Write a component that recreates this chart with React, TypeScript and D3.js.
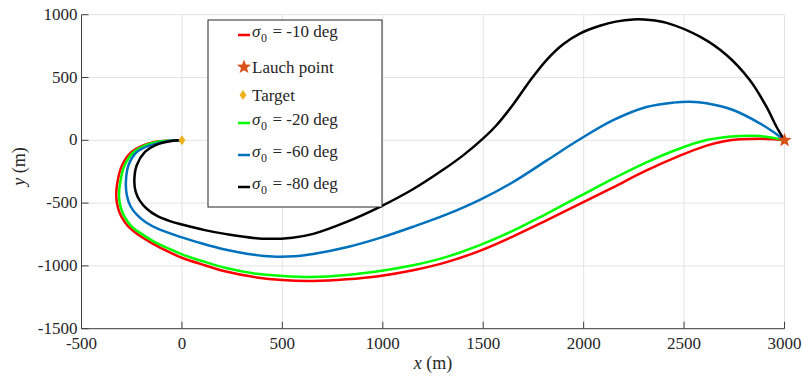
import React from "react";
import * as d3 from "d3";

const xTicks = [-500, 0, 500, 1000, 1500, 2000, 2500, 3000];
const yTicks = [-1500, -1000, -500, 0, 500, 1000];

const red10: [number, number][] = [
  [0, 0], [-60, -3], [-134, -13], [-193, -40], [-251, -93], [-298, -199], [-321, -332],
  [-327, -450], [-318, -540], [-300, -612], [-265, -690], [-217, -752], [-150, -818],
  [-60, -893], [0, -935], [114, -995], [214, -1043], [372, -1092], [500, -1113],
  [650, -1120], [820, -1107], [986, -1080], [1151, -1035], [1318, -970], [1483, -880],
  [1649, -765], [1815, -638], [1981, -507], [2147, -374], [2313, -240], [2479, -122],
  [2612, -42], [2700, -8], [2778, 8], [2877, 13], [2950, 8], [3000, 0],
];
const green20: [number, number][] = [
  [0, 0], [-60, -3], [-125, -13], [-183, -40], [-240, -93], [-285, -199], [-307, -332],
  [-313, -450], [-304, -540], [-286, -607], [-251, -685], [-203, -743], [-137, -808],
  [-50, -873], [0, -908], [114, -968], [214, -1015], [372, -1063], [500, -1080],
  [650, -1088], [820, -1072], [986, -1040], [1151, -995], [1318, -928], [1483, -835],
  [1649, -720], [1815, -585], [1981, -445], [2147, -305], [2313, -175], [2479, -65],
  [2612, 2], [2700, 25], [2778, 34], [2877, 34], [2950, 18], [3000, 0],
];
const blue60: [number, number][] = [
  [0, 0], [-60, -3], [-159, -40], [-225, -93], [-266, -199], [-279, -332], [-274, -440],
  [-256, -525], [-225, -592], [-180, -652], [-110, -712], [-51, -745], [0, -773],
  [100, -822], [214, -870], [330, -905], [450, -926], [560, -924], [654, -905],
  [820, -852], [986, -777], [1151, -688], [1318, -590], [1483, -474], [1649, -332],
  [1815, -162], [1981, 8], [2147, 160], [2313, 265], [2446, 300], [2529, 307],
  [2612, 295], [2744, 241], [2877, 135], [2943, 68], [3000, 0],
];
const black80: [number, number][] = [
  [0, 0], [-35, -2], [-134, -40], [-184, -93], [-225, -199], [-237, -320], [-230, -410],
  [-210, -480], [-175, -545], [-126, -600], [-60, -643], [0, -670], [114, -715],
  [214, -745], [400, -783], [550, -775], [654, -745], [820, -650], [986, -530],
  [1150, -390], [1300, -235], [1400, -120], [1500, 15], [1566, 120], [1649, 285],
  [1732, 472], [1815, 639], [1898, 765], [1981, 850], [2081, 912], [2160, 945],
  [2247, 962], [2330, 958], [2413, 935], [2579, 825], [2711, 679], [2827, 480],
  [2910, 268], [2960, 108], [3000, 0],
];

const series = [
  { name: "-10", data: red10, color: "#ff0000" },
  { name: "-20", data: green20, color: "#00ff00" },
  { name: "-60", data: blue60, color: "#0072bd" },
  { name: "-80", data: black80, color: "#000000" },
];

const launch: [number, number] = [3000, 0];
const target: [number, number] = [0, 0];

const W = 802, H = 376;
const L = 81.5, R = 784.5, T = 14.7, B = 328.7;
const font = '"Liberation Serif", "Times New Roman", Tinos, "DejaVu Serif", serif';
const txt = { fontFamily: font, fill: "#262626" } as const;

function starPath(cx: number, cy: number, r: number) {
  const pts: string[] = [];
  for (let i = 0; i < 10; i++) {
    const a = -Math.PI / 2 + (i * Math.PI) / 5;
    const rr = i % 2 === 0 ? r : r * 0.42;
    pts.push(`${cx + rr * Math.cos(a)},${cy + rr * Math.sin(a)}`);
  }
  return "M" + pts.join("L") + "Z";
}
function diamondPath(cx: number, cy: number, r: number) {
  return `M${cx},${cy - r}L${cx + r * 0.7},${cy}L${cx},${cy + r}L${cx - r * 0.7},${cy}Z`;
}

function Sigma({ x, y, val }: { x: number; y: number; val: string }) {
  return (
    <g>
      <text x={x} y={y} style={{ ...txt, fontSize: 17, fontStyle: "italic" }}>σ</text>
      <text x={x + 9} y={y + 5} style={{ ...txt, fontSize: 12 }}>0</text>
      <text x={x + 20.5} y={y} style={{ ...txt, fontSize: 17 }}>{`= ${val} deg`}</text>
    </g>
  );
}

export default function App() {
  const x = d3.scaleLinear().domain([-500, 3000]).range([L, R]);
  const y = d3.scaleLinear().domain([-1500, 1000]).range([B, T]);
  const line = d3
    .line<[number, number]>()
    .x((d) => x(d[0]))
    .y((d) => y(d[1]))
    .curve(d3.curveCatmullRom.alpha(0.5));

  const axisColor = "#404040";
  const legendRows = [
    { kind: "line", color: "#ff0000", val: "-10", cy: 35 },
    { kind: "star", cy: 67 },
    { kind: "diamond", cy: 95 },
    { kind: "line", color: "#00ff00", val: "-20", cy: 123 },
    { kind: "line", color: "#0072bd", val: "-60", cy: 155 },
    { kind: "line", color: "#000000", val: "-80", cy: 187 },
  ];

  return (
    <svg width={W} height={H} style={{ position: "absolute", left: 0, top: 0, background: "#fff" }}>
      <rect width={W} height={H} fill="#fff" />
      {xTicks.map((t) => (
        <line key={"gx" + t} x1={x(t)} x2={x(t)} y1={T} y2={B} stroke="#e3e3e3" strokeWidth={1} />
      ))}
      {yTicks.map((t) => (
        <line key={"gy" + t} x1={L} x2={R} y1={y(t)} y2={y(t)} stroke="#e3e3e3" strokeWidth={1} />
      ))}
      {series.map((s) => (
        <path key={s.name} d={line(s.data) || ""} fill="none" stroke={s.color} strokeWidth={2.5} />
      ))}
      <path d={diamondPath(x(target[0]), y(target[1]), 5)} fill="#edb120" />
      <path d={starPath(x(launch[0]), y(launch[1]), 7.5)} fill="#d95319" />
      <line x1={L} x2={L} y1={T} y2={B} stroke={axisColor} strokeWidth={1} />
      <line x1={L} x2={R} y1={B} y2={B} stroke={axisColor} strokeWidth={1} />
      {yTicks.map((t) => (
        <g key={"ty" + t}>
          <line x1={L} x2={L + 7} y1={y(t)} y2={y(t)} stroke={axisColor} />
          <text x={L - 4} y={y(t) + 5} textAnchor="end" style={{ ...txt, fontSize: 17 }}>
            {t}
          </text>
        </g>
      ))}
      {xTicks.map((t) => (
        <g key={"tx" + t}>
          <line x1={x(t)} x2={x(t)} y1={B} y2={B - 7} stroke={axisColor} />
          <text x={x(t)} y={B + 20} textAnchor="middle" style={{ ...txt, fontSize: 17 }}>
            {t}
          </text>
        </g>
      ))}
      <text x={433} y={369} textAnchor="middle" style={{ ...txt, fontSize: 18 }}>
        <tspan fontStyle="italic">x</tspan> (m)
      </text>
      <text transform={`translate(25,166.5) rotate(-90)`} textAnchor="middle" style={{ ...txt, fontSize: 18 }}>
        <tspan fontStyle="italic">y</tspan> (m)
      </text>
      <rect x={208} y={20} width={174} height={187} fill="#fff" stroke="#262626" strokeWidth={1} />
      {legendRows.map((r, i) => (
        <g key={"lg" + i}>
          {r.kind === "line" && (
            <>
              <line x1={238} x2={250} y1={r.cy} y2={r.cy} stroke={r.color} strokeWidth={2.5} />
              <Sigma x={252} y={r.cy + 2} val={r.val as string} />
            </>
          )}
          {r.kind === "star" && (
            <>
              <path d={starPath(244, r.cy, 7.5)} fill="#d95319" />
              <text x={252} y={r.cy + 6} style={{ ...txt, fontSize: 17 }}>
                Lauch point
              </text>
            </>
          )}
          {r.kind === "diamond" && (
            <>
              <path d={diamondPath(243, r.cy, 5)} fill="#edb120" />
              <text x={252} y={r.cy + 6} style={{ ...txt, fontSize: 17 }}>
                Target
              </text>
            </>
          )}
        </g>
      ))}
    </svg>
  );
}
